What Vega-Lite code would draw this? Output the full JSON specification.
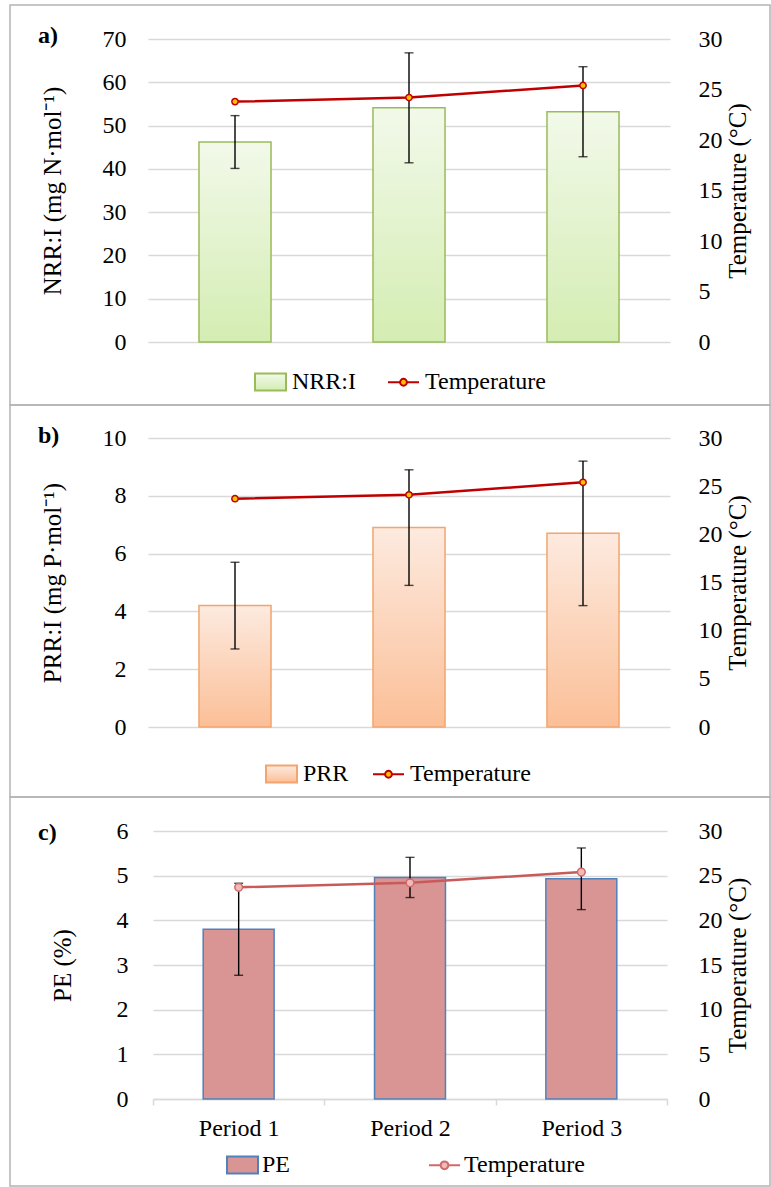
{
  "$schema": "https://vega.github.io/schema/vega-lite/v6.json",
  "padding": {"left": 9, "top": 4, "right": 0, "bottom": 0},
  "spacing": 0,
  "bounds": "flush",
  "datasets": {
    "a": [
      {"period": "Period 1", "value": 46.2, "err": 6.1, "temp": 23.8},
      {"period": "Period 2", "value": 54.1, "err": 12.7, "temp": 24.2},
      {"period": "Period 3", "value": 53.2, "err": 10.4, "temp": 25.4}
    ],
    "b": [
      {"period": "Period 1", "value": 4.2, "err": 1.5, "temp": 23.7},
      {"period": "Period 2", "value": 6.9, "err": 2.0, "temp": 24.1},
      {"period": "Period 3", "value": 6.7, "err": 2.5, "temp": 25.4}
    ],
    "c": [
      {"period": "Period 1", "value": 3.8, "err": 1.03, "temp": 23.7},
      {"period": "Period 2", "value": 4.96, "err": 0.45, "temp": 24.2},
      {"period": "Period 3", "value": 4.93, "err": 0.69, "temp": 25.4}
    ],
    "legA": [{"series": "NRR:I"}, {"series": "Temperature"}],
    "legB": [{"series": "PRR"}, {"series": "Temperature"}],
    "legC": [{"series": "PE"}, {"series": "Temperature"}]
  },
  "vconcat": [
    {
      "width": 760, "height": 400,
      "title": {"text": "a)", "anchor": "start", "frame": "group", "offset": -62, "dx": 28, "baseline": "alphabetic"},
      "layer": [
        {
          "data": {"name": "a"},
          "layer": [
            {
              "mark": {"type": "bar", "fill": {"gradient": "linear", "x1": 0, "y1": 0, "x2": 0, "y2": 1, "stops": [{"offset": 0, "color": "#f2f9ea"}, {"offset": 1, "color": "#d4edb2"}]}, "stroke": "#9bbb59", "strokeWidth": 1.5, "width": {"band": 0.414}},
              "encoding": {
                "x": {"field": "period", "type": "nominal", "sort": null, "title": null, "scale": {"range": [138, 660], "paddingInner": 0, "paddingOuter": 0}, "axis": null},
                "y": {"field": "value", "type": "quantitative", "title": "NRR:I (mg N·mol⁻¹)", "scale": {"domain": [0, 70], "range": [337, 34], "nice": false, "zero": false},
                  "axis": {"orient": "left", "offset": -121, "ticks": false, "domain": false, "labelPadding": 5, "grid": true, "gridColor": "#d9d9d9", "gridWidth": 1.5, "values": [0, 10, 20, 30, 40, 50, 60, 70], "format": "d", "labelFont": "Liberation Serif", "labelFontSize": 24, "labelColor": "#000000", "titlePadding": 37}}
              }
            },
            {
              "mark": {"type": "errorbar", "ticks": {"size": 9}, "color": "black", "thickness": 1.4},
              "encoding": {
                "x": {"field": "period", "type": "nominal", "sort": null, "title": null, "scale": {"range": [138, 660], "paddingInner": 0, "paddingOuter": 0}, "axis": null},
                "y": {"field": "value", "type": "quantitative", "title": "NRR:I (mg N·mol⁻¹)", "scale": {"domain": [0, 70], "range": [337, 34], "nice": false, "zero": false}},
                "yError": {"field": "err"}
              }
            }
          ]
        },
        {
          "data": {"name": "a"},
          "mark": {"type": "line", "color": "#c00000", "strokeWidth": 2.5, "point": {"filled": true, "fill": "#ffc000", "stroke": "#c00000", "strokeWidth": 1.5, "size": 40, "opacity": 1}},
          "encoding": {
            "x": {"field": "period", "type": "nominal", "sort": null, "title": null, "scale": {"range": [138, 660], "paddingInner": 0, "paddingOuter": 0}, "axis": null},
            "y": {"field": "temp", "type": "quantitative", "title": "Temperature (°C)", "scale": {"domain": [0, 30], "range": [337, 34], "nice": false, "zero": false},
              "axis": {"orient": "right", "offset": -77, "ticks": false, "domain": false, "labelPadding": 5, "grid": false, "values": [0, 5, 10, 15, 20, 25, 30], "format": "d", "labelFont": "Liberation Serif", "labelFontSize": 24, "labelColor": "#000000", "titleAngle": 270, "titleBaseline": "top", "titlePadding": 3}}
          }
        },
        {
          "data": {"name": "legA"},
          "mark": {"type": "point", "opacity": 0, "filled": true},
          "encoding": {
            "shape": {"field": "series", "type": "nominal", "scale": {"domain": ["NRR:I", "Temperature"], "range": ["M-1,-0.55L1,-0.55L1,0.55L-1,0.55Z", "M-1,0L-0.22,0M0.22,0L1,0M0.22,0A0.22,0.22,0,1,1,-0.22,0A0.22,0.22,0,1,1,0.22,0Z"]},
              "legend": {"title": null, "orient": "none", "legendX": 244, "legendY": 360, "direction": "horizontal", "columnPadding": 27, "labelOffset": 5, "symbolSize": 961, "symbolStrokeWidth": 2, "symbolFillColor": "#ffffff", "symbolOpacity": 1, "padding": 0}},
            "fill": {"field": "series", "type": "nominal", "scale": {"domain": ["NRR:I", "Temperature"], "range": [{"expr": "{gradient: 'linear', x1: 0, y1: 0, x2: 0, y2: 1, stops: [{offset: 0, color: '#f2f9ea'}, {offset: 1, color: '#d4edb2'}]}"}, "#ffc000"]},
              "legend": {"title": null, "orient": "none", "legendX": 244, "legendY": 360, "direction": "horizontal", "columnPadding": 27, "labelOffset": 5, "symbolSize": 961, "symbolStrokeWidth": 2, "symbolFillColor": "#ffffff", "symbolOpacity": 1, "padding": 0}},
            "stroke": {"field": "series", "type": "nominal", "scale": {"domain": ["NRR:I", "Temperature"], "range": ["#9bbb59", "#c00000"]},
              "legend": {"title": null, "orient": "none", "legendX": 244, "legendY": 360, "direction": "horizontal", "columnPadding": 27, "labelOffset": 5, "symbolSize": 961, "symbolStrokeWidth": 2, "symbolFillColor": "#ffffff", "symbolOpacity": 1, "padding": 0}}
          }
        }
      ],
      "resolve": {"scale": {"y": "independent"}}
    },
    {
      "width": 760, "height": 392,
      "title": {"text": "b)", "anchor": "start", "frame": "group", "offset": -62, "dx": 28, "baseline": "alphabetic"},
      "layer": [
        {
          "data": {"name": "b"},
          "layer": [
            {
              "mark": {"type": "bar", "fill": {"gradient": "linear", "x1": 0, "y1": 0, "x2": 0, "y2": 1, "stops": [{"offset": 0, "color": "#fdeadf"}, {"offset": 1, "color": "#fbbf97"}]}, "stroke": "#f3a56d", "strokeWidth": 1.5, "width": {"band": 0.414}},
              "encoding": {
                "x": {"field": "period", "type": "nominal", "sort": null, "title": null, "scale": {"range": [138, 660], "paddingInner": 0, "paddingOuter": 0}, "axis": null},
                "y": {"field": "value", "type": "quantitative", "title": "PRR:I (mg P·mol⁻¹)", "scale": {"domain": [0, 10], "range": [322, 33], "nice": false, "zero": false},
                  "axis": {"orient": "left", "offset": -121, "ticks": false, "domain": false, "labelPadding": 5, "grid": true, "gridColor": "#d9d9d9", "gridWidth": 1.5, "values": [0, 2, 4, 6, 8, 10], "format": "d", "labelFont": "Liberation Serif", "labelFontSize": 24, "labelColor": "#000000", "titlePadding": 37}}
              }
            },
            {
              "mark": {"type": "errorbar", "ticks": {"size": 9}, "color": "black", "thickness": 1.4},
              "encoding": {
                "x": {"field": "period", "type": "nominal", "sort": null, "title": null, "scale": {"range": [138, 660], "paddingInner": 0, "paddingOuter": 0}, "axis": null},
                "y": {"field": "value", "type": "quantitative", "title": "PRR:I (mg P·mol⁻¹)", "scale": {"domain": [0, 10], "range": [322, 33], "nice": false, "zero": false}},
                "yError": {"field": "err"}
              }
            }
          ]
        },
        {
          "data": {"name": "b"},
          "mark": {"type": "line", "color": "#c00000", "strokeWidth": 2.5, "point": {"filled": true, "fill": "#ffc000", "stroke": "#c00000", "strokeWidth": 1.5, "size": 40, "opacity": 1}},
          "encoding": {
            "x": {"field": "period", "type": "nominal", "sort": null, "title": null, "scale": {"range": [138, 660], "paddingInner": 0, "paddingOuter": 0}, "axis": null},
            "y": {"field": "temp", "type": "quantitative", "title": "Temperature (°C)", "scale": {"domain": [0, 30], "range": [322, 33], "nice": false, "zero": false},
              "axis": {"orient": "right", "offset": -77, "ticks": false, "domain": false, "labelPadding": 5, "grid": false, "values": [0, 5, 10, 15, 20, 25, 30], "format": "d", "labelFont": "Liberation Serif", "labelFontSize": 24, "labelColor": "#000000", "titleAngle": 270, "titleBaseline": "top", "titlePadding": 3}}
          }
        },
        {
          "data": {"name": "legB"},
          "mark": {"type": "point", "opacity": 0, "filled": true},
          "encoding": {
            "shape": {"field": "series", "type": "nominal", "scale": {"domain": ["PRR", "Temperature"], "range": ["M-1,-0.55L1,-0.55L1,0.55L-1,0.55Z", "M-1,0L-0.22,0M0.22,0L1,0M0.22,0A0.22,0.22,0,1,1,-0.22,0A0.22,0.22,0,1,1,0.22,0Z"]},
              "legend": {"title": null, "orient": "none", "legendX": 255, "legendY": 352, "direction": "horizontal", "columnPadding": 20, "labelOffset": 5, "symbolSize": 961, "symbolStrokeWidth": 2, "symbolFillColor": "#ffffff", "symbolOpacity": 1, "padding": 0}},
            "fill": {"field": "series", "type": "nominal", "scale": {"domain": ["PRR", "Temperature"], "range": [{"expr": "{gradient: 'linear', x1: 0, y1: 0, x2: 0, y2: 1, stops: [{offset: 0, color: '#fdeadf'}, {offset: 1, color: '#fbbf97'}]}"}, "#ffc000"]},
              "legend": {"title": null, "orient": "none", "legendX": 255, "legendY": 352, "direction": "horizontal", "columnPadding": 20, "labelOffset": 5, "symbolSize": 961, "symbolStrokeWidth": 2, "symbolFillColor": "#ffffff", "symbolOpacity": 1, "padding": 0}},
            "stroke": {"field": "series", "type": "nominal", "scale": {"domain": ["PRR", "Temperature"], "range": ["#f3a56d", "#c00000"]},
              "legend": {"title": null, "orient": "none", "legendX": 255, "legendY": 352, "direction": "horizontal", "columnPadding": 20, "labelOffset": 5, "symbolSize": 961, "symbolStrokeWidth": 2, "symbolFillColor": "#ffffff", "symbolOpacity": 1, "padding": 0}}
          }
        }
      ],
      "resolve": {"scale": {"y": "independent"}}
    },
    {
      "width": 760, "height": 389,
      "title": {"text": "c)", "anchor": "start", "frame": "group", "offset": -67, "dx": 28, "baseline": "alphabetic"},
      "layer": [
        {
          "data": {"name": "c"},
          "layer": [
            {
              "mark": {"type": "bar", "fill": "#d99594", "stroke": "#4f81bd", "strokeWidth": 1.5, "width": {"band": 0.414}},
              "encoding": {
                "x": {"field": "period", "type": "nominal", "sort": null, "title": null, "scale": {"range": [143, 657], "paddingInner": 0, "paddingOuter": 0},
                  "axis": {"orient": "bottom", "offset": -87, "domainColor": "#d9d9d9", "domainWidth": 1.5, "tickColor": "#d9d9d9", "tickWidth": 1.5, "tickSize": 6, "tickBand": "extent", "labelPadding": 11, "labelAngle": 0, "grid": false, "labelFont": "Liberation Serif", "labelFontSize": 24, "labelColor": "#000000"}},
                "y": {"field": "value", "type": "quantitative", "title": "PE (%)", "scale": {"domain": [0, 6], "range": [302, 34], "nice": false, "zero": false},
                  "axis": {"orient": "left", "offset": -123, "ticks": false, "domain": false, "labelPadding": 5, "grid": true, "gridColor": "#d9d9d9", "gridWidth": 1.5, "values": [0, 1, 2, 3, 4, 5, 6], "format": "d", "labelFont": "Liberation Serif", "labelFontSize": 24, "labelColor": "#000000", "titlePadding": 41}}
              }
            },
            {
              "mark": {"type": "errorbar", "ticks": {"size": 9}, "color": "black", "thickness": 1.4},
              "encoding": {
                "x": {"field": "period", "type": "nominal", "sort": null, "title": null, "scale": {"range": [143, 657], "paddingInner": 0, "paddingOuter": 0},
                  "axis": {"orient": "bottom", "offset": -87, "domainColor": "#d9d9d9", "domainWidth": 1.5, "tickColor": "#d9d9d9", "tickWidth": 1.5, "tickSize": 6, "tickBand": "extent", "labelPadding": 11, "labelAngle": 0, "grid": false, "labelFont": "Liberation Serif", "labelFontSize": 24, "labelColor": "#000000"}},
                "y": {"field": "value", "type": "quantitative", "title": "PE (%)", "scale": {"domain": [0, 6], "range": [302, 34], "nice": false, "zero": false}},
                "yError": {"field": "err"}
              }
            }
          ]
        },
        {
          "data": {"name": "c"},
          "mark": {"type": "line", "color": "#c95a5a", "strokeWidth": 2.5, "point": {"filled": true, "fill": "#f4b8b8", "stroke": "#d06a6a", "strokeWidth": 1.5, "size": 60, "opacity": 1}},
          "encoding": {
            "x": {"field": "period", "type": "nominal", "sort": null, "title": null, "scale": {"range": [143, 657], "paddingInner": 0, "paddingOuter": 0},
              "axis": {"orient": "bottom", "offset": -87, "domainColor": "#d9d9d9", "domainWidth": 1.5, "tickColor": "#d9d9d9", "tickWidth": 1.5, "tickSize": 6, "tickBand": "extent", "labelPadding": 11, "labelAngle": 0, "grid": false, "labelFont": "Liberation Serif", "labelFontSize": 24, "labelColor": "#000000"}},
            "y": {"field": "temp", "type": "quantitative", "title": "Temperature (°C)", "scale": {"domain": [0, 30], "range": [302, 34], "nice": false, "zero": false},
              "axis": {"orient": "right", "offset": -77, "ticks": false, "domain": false, "labelPadding": 5, "grid": false, "values": [0, 5, 10, 15, 20, 25, 30], "format": "d", "labelFont": "Liberation Serif", "labelFontSize": 24, "labelColor": "#000000", "titleAngle": 270, "titleBaseline": "top", "titlePadding": 3}}
          }
        },
        {
          "data": {"name": "legC"},
          "mark": {"type": "point", "opacity": 0, "filled": true},
          "encoding": {
            "shape": {"field": "series", "type": "nominal", "scale": {"domain": ["PE", "Temperature"], "range": ["M-1,-0.55L1,-0.55L1,0.55L-1,0.55Z", "M-1,0L-0.25,0M0.25,0L1,0M0.25,0A0.25,0.25,0,1,1,-0.25,0A0.25,0.25,0,1,1,0.25,0Z"]},
              "legend": {"title": null, "orient": "none", "legendX": 216, "legendY": 351, "direction": "horizontal", "columnPadding": 134, "labelOffset": 3, "symbolSize": 961, "symbolStrokeWidth": 2, "symbolFillColor": "#ffffff", "symbolOpacity": 1, "padding": 0}},
            "fill": {"field": "series", "type": "nominal", "scale": {"domain": ["PE", "Temperature"], "range": ["#d99594", "#f4b8b8"]},
              "legend": {"title": null, "orient": "none", "legendX": 216, "legendY": 351, "direction": "horizontal", "columnPadding": 134, "labelOffset": 3, "symbolSize": 961, "symbolStrokeWidth": 2, "symbolFillColor": "#ffffff", "symbolOpacity": 1, "padding": 0}},
            "stroke": {"field": "series", "type": "nominal", "scale": {"domain": ["PE", "Temperature"], "range": ["#4f81bd", "#d06a6a"]},
              "legend": {"title": null, "orient": "none", "legendX": 216, "legendY": 351, "direction": "horizontal", "columnPadding": 134, "labelOffset": 3, "symbolSize": 961, "symbolStrokeWidth": 2, "symbolFillColor": "#ffffff", "symbolOpacity": 1, "padding": 0}}
          }
        }
      ],
      "resolve": {"scale": {"y": "independent"}}
    }
  ],
  "resolve": {
    "scale": {"shape": "independent", "fill": "independent", "stroke": "independent"},
    "legend": {"shape": "independent", "fill": "independent", "stroke": "independent"}
  },
  "config": {
    "view": {"stroke": "#b4b4b4", "strokeWidth": 1.5},
    "style": {"guide-label": {"font": "Liberation Serif", "fontSize": 24, "fill": "#000000"}, "guide-title": {"font": "Liberation Serif"}},
    "axis": {"labelFont": "Liberation Serif", "labelFontSize": 24, "labelColor": "#000000", "titleFont": "Liberation Serif", "titleFontSize": 25, "titleFontWeight": "normal", "titleColor": "#000000"},
    "legend": {"labelFont": "Liberation Serif", "labelFontSize": 24, "labelColor": "#000000"},
    "title": {"font": "Liberation Serif", "fontSize": 24, "fontWeight": "bold", "color": "#000000"}
  }
}
